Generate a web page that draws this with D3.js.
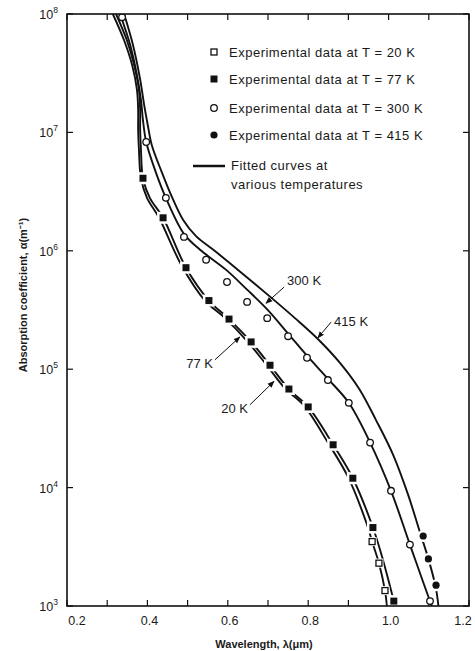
<!DOCTYPE html>
<html>
    <head>
        <title>Absorption coefficient vs wavelength</title>
        <meta charset="utf-8" />
        <script src="https://d3js.org/d3.v7.min.js"></script>
        <style>
            body {
                margin: 0;
                background-color: white;
            }
            svg {
                display: block;
                font-family: 'Liberation Sans', Arial, sans-serif;
                fill: #1a1a1a;
            }
        </style>
    </head>
    <body>
        <svg></svg>
        <script>
            // tick values
            const xMajorTicks = [0.2, 0.4, 0.6, 0.8, 1.0, 1.2]
            const xMinorTicks = [0.3, 0.5, 0.7, 0.9, 1.1]
            const yExponents = [3, 4, 5, 6, 7, 8]

            // experimental points [wavelength (um), alpha (1/m)]
            const data20K = [[0.959, 3.5e3], [0.976, 2.3e3], [0.991, 1.35e3]]
            const data77K = [
                [0.389, 4.1e6], [0.439, 1.9e6], [0.496, 7.2e5], [0.553, 3.8e5],
                [0.603, 2.65e5], [0.658, 1.7e5], [0.705, 1.08e5], [0.752, 6.8e4],
                [0.8, 4.8e4], [0.862, 2.3e4], [0.911, 1.2e4], [0.961, 4.6e3],
                [1.013, 1.1e3],
            ]
            const data300K = [
                [0.337, 9.4e7], [0.397, 8.3e6], [0.446, 2.8e6], [0.491, 1.31e6],
                [0.546, 8.4e5], [0.598, 5.45e5], [0.648, 3.7e5], [0.698, 2.7e5],
                [0.75, 1.9e5], [0.797, 1.25e5], [0.849, 8.1e4], [0.901, 5.2e4],
                [0.954, 2.4e4], [1.006, 9.4e3], [1.053, 3.3e3], [1.103, 1.1e3],
            ]
            const data415K = [[1.086, 3.9e3], [1.099, 2.5e3], [1.118, 1.5e3]]

            // fitted curves
            const fit20K = [
                [0.314, 1e8], [0.342, 6.0e7], [0.362, 3.7e7], [0.374, 2.3e7],
                [0.377, 1.55e7], [0.377, 1.05e7], [0.379, 7.1e6], [0.384, 4.1e6],
                [0.399, 2.8e6], [0.429, 1.9e6], [0.486, 7.4e5], [0.543, 3.8e5],
                [0.593, 2.7e5], [0.648, 1.73e5], [0.695, 1.1e5], [0.742, 6.9e4],
                [0.79, 4.9e4], [0.849, 2.4e4], [0.899, 1.23e4], [0.946, 4.9e3],
                [0.959, 3.5e3], [0.976, 2.3e3], [0.991, 1.35e3], [0.996, 1e3],
            ]
            const fit77K = [
                [0.322, 1e8], [0.349, 6.0e7], [0.367, 3.7e7], [0.379, 2.3e7],
                [0.382, 1.55e7], [0.382, 1.05e7], [0.384, 7.1e6], [0.389, 4.1e6],
                [0.406, 2.8e6], [0.439, 1.9e6], [0.496, 7.2e5], [0.553, 3.8e5],
                [0.603, 2.65e5], [0.658, 1.7e5], [0.705, 1.08e5], [0.752, 6.8e4],
                [0.8, 4.8e4], [0.862, 2.3e4], [0.911, 1.2e4], [0.961, 4.6e3],
                [0.986, 2.45e3], [1.013, 1.1e3], [1.016, 1e3],
            ]
            const fit300K = [
                [0.332, 1e8], [0.357, 5.5e7], [0.374, 3.05e7], [0.384, 1.88e7],
                [0.389, 1.27e7], [0.397, 8.3e6], [0.421, 4.6e6], [0.446, 2.8e6],
                [0.491, 1.39e6], [0.531, 1.02e6], [0.596, 6.9e5], [0.648, 4.7e5],
                [0.698, 3.2e5], [0.75, 2.0e5], [0.797, 1.3e5], [0.849, 8.3e4],
                [0.901, 5.2e4], [0.954, 2.4e4], [1.006, 9.4e3], [1.053, 3.3e3],
                [1.103, 1.1e3], [1.108, 1e3],
            ]
            const fit415K = [
                [0.342, 1e8], [0.364, 5.5e7], [0.382, 2.8e7], [0.392, 1.7e7],
                [0.401, 1.15e7], [0.411, 7.8e6], [0.436, 4.6e6], [0.461, 2.85e6],
                [0.489, 1.82e6], [0.521, 1.33e6], [0.568, 9.95e5], [0.63, 6.7e5],
                [0.705, 4.1e5], [0.767, 2.7e5], [0.824, 1.8e5], [0.879, 1.13e5],
                [0.927, 6.8e4], [0.969, 3.7e4], [1.011, 1.9e4], [1.048, 8.8e3],
                [1.077, 4.3e3], [1.099, 2.5e3], [1.117, 1.45e3], [1.124, 1e3],
            ]

            const legendLabels = [
                'Experimental data at T = 20 K',
                'Experimental data at T = 77 K',
                'Experimental data at T = 300 K',
                'Experimental data at T = 415 K',
            ]
            const curveNames = ['300 K', '415 K', '77 K', '20 K']

            const width = 475
            const height = 651
            const plotLeft = 67
            const plotRight = 469
            const plotTop = 14
            const plotBottom = 606

            const svg = d3
                .select('svg')
                .attr('width', width)
                .attr('height', height)
                .attr('viewBox', [0, 0, width, height])

            const xScale = d3.scaleLinear().domain([0.2, 1.2]).range([plotLeft, plotRight])
            const yScale = d3.scaleLog().domain([1e3, 1e8]).range([plotBottom, plotTop])

            const defs = svg.append('defs')
            defs.append('clipPath')
                .attr('id', 'plot')
                .append('rect')
                .attr('x', plotLeft)
                .attr('y', plotTop)
                .attr('width', plotRight - plotLeft)
                .attr('height', plotBottom - plotTop)

            defs.append('marker')
                .attr('id', 'arrow')
                .attr('viewBox', '0 0 10 10')
                .attr('refX', 9)
                .attr('refY', 5)
                .attr('markerWidth', 7)
                .attr('markerHeight', 7)
                .attr('markerUnits', 'userSpaceOnUse')
                .attr('orient', 'auto')
                .append('path')
                .attr('d', 'M0,1 L10,5 L0,9 Z')
                .style('fill', '#111')

            // ticks, all pointing inward
            const tickLen = 6
            const allX = xMajorTicks.concat(xMinorTicks)
            const tickG = svg.append('g').style('stroke', '#111').style('stroke-width', 1.2)
            allX.forEach((t) => {
                tickG.append('line')
                    .attr('x1', xScale(t)).attr('x2', xScale(t))
                    .attr('y1', plotBottom).attr('y2', plotBottom - tickLen)
                tickG.append('line')
                    .attr('x1', xScale(t)).attr('x2', xScale(t))
                    .attr('y1', plotTop).attr('y2', plotTop + tickLen)
            })
            yExponents.forEach((e) => {
                const yy = yScale(Math.pow(10, e))
                tickG.append('line')
                    .attr('x1', plotLeft).attr('x2', plotLeft + tickLen)
                    .attr('y1', yy).attr('y2', yy)
                tickG.append('line')
                    .attr('x1', plotRight).attr('x2', plotRight - tickLen)
                    .attr('y1', yy).attr('y2', yy)
            })

            // tick labels (first and last nudged so they stay inside the page)
            const lastTick = xMajorTicks.length - 1
            svg.selectAll('.xlab')
                .data(xMajorTicks)
                .enter()
                .append('text')
                .attr('class', 'xlab')
                .attr('x', (d, i) => xScale(d) + (i === 0 ? 10 : i === lastTick ? -6 : 2))
                .attr('y', 625)
                .attr('text-anchor', 'middle')
                .style('font-size', '12.5px')
                .text((d) => d.toFixed(1))

            const yLab = svg.selectAll('.ylab')
                .data(yExponents)
                .enter()
                .append('text')
                .attr('class', 'ylab')
                .attr('x', 58)
                .attr('y', (d) => yScale(Math.pow(10, d)) + 5)
                .attr('text-anchor', 'end')
                .style('font-size', '12.5px')
            yLab.append('tspan').text('10')
            yLab.append('tspan')
                .attr('dy', -6)
                .style('font-size', '8.5px')
                .text((d) => d)

            // axis titles
            svg.append('text')
                .attr('x', 264)
                .attr('y', 648)
                .attr('text-anchor', 'middle')
                .style('font-size', '11px')
                .style('font-weight', 'bold')
                .text('Wavelength, λ(μm)')

            svg.append('text')
                .attr('transform', 'translate(27,295) rotate(-90)')
                .attr('text-anchor', 'middle')
                .style('font-size', '11px')
                .style('font-weight', 'bold')
                .text('Absorption coefficient, α(m⁻¹)')

            // fitted curves
            const line = d3
                .line()
                .x((d) => xScale(d[0]))
                .y((d) => yScale(d[1]))
                .curve(d3.curveCatmullRom.alpha(0.5))

            const plot = svg.append('g').attr('clip-path', 'url(#plot)')
            ;[fit20K, fit77K, fit300K, fit415K].forEach((fit) => {
                plot.append('path')
                    .attr('d', line(fit))
                    .style('fill', 'none')
                    .style('stroke', '#111')
                    .style('stroke-width', 1.9)
            })

            // white gaps around the markers
            function halo(data, shape, size) {
                data.forEach((d) => {
                    if (shape === 'square') {
                        plot.append('rect')
                            .attr('x', xScale(d[0]) - size / 2)
                            .attr('y', yScale(d[1]) - size / 2)
                            .attr('width', size)
                            .attr('height', size)
                            .style('fill', 'white')
                    } else {
                        plot.append('circle')
                            .attr('cx', xScale(d[0]))
                            .attr('cy', yScale(d[1]))
                            .attr('r', size / 2)
                            .style('fill', 'white')
                    }
                })
            }
            halo(data77K, 'square', 12)
            halo(data20K, 'square', 9)
            halo(data415K, 'circle', 12)

            function drawMarker(g, cx, cy, shape, filled) {
                if (shape === 'square') {
                    const s = filled ? 7 : 6
                    g.append('rect')
                        .attr('x', cx - s / 2)
                        .attr('y', cy - s / 2)
                        .attr('width', s)
                        .attr('height', s)
                        .style('fill', filled ? '#111' : 'white')
                        .style('stroke', '#111')
                        .style('stroke-width', filled ? 0 : 1.3)
                } else {
                    g.append('circle')
                        .attr('cx', cx)
                        .attr('cy', cy)
                        .attr('r', filled ? 3.6 : 3.3)
                        .style('fill', filled ? '#111' : 'white')
                        .style('stroke', '#111')
                        .style('stroke-width', filled ? 0 : 1.3)
                }
            }

            const series = [
                { data: data20K, shape: 'square', filled: false },
                { data: data77K, shape: 'square', filled: true },
                { data: data300K, shape: 'circle', filled: false },
                { data: data415K, shape: 'circle', filled: true },
            ]
            series.forEach((s) => {
                s.data.forEach((d) => {
                    drawMarker(plot, xScale(d[0]), yScale(d[1]), s.shape, s.filled)
                })
            })

            // curve labels with arrows: [tail, tip] in data units
            const arrows = [
                [[0.74, 4.94e5], [0.695, 3.6e5]],
                [[0.857, 2.5e5], [0.824, 1.84e5]],
                [[0.568, 1.2e5], [0.63, 1.87e5]],
                [[0.655, 5.0e4], [0.715, 7.9e4]],
            ]
            arrows.forEach((a, i) => {
                const x0 = xScale(a[0][0])
                const y0 = yScale(a[0][1])
                svg.append('line')
                    .attr('x1', x0)
                    .attr('y1', y0)
                    .attr('x2', xScale(a[1][0]))
                    .attr('y2', yScale(a[1][1]))
                    .attr('marker-end', 'url(#arrow)')
                    .style('stroke', '#111')
                    .style('stroke-width', 1)
                const upper = i < 2
                svg.append('text')
                    .attr('x', upper ? x0 + 3 : x0 - 2)
                    .attr('y', upper ? (i === 0 ? y0 - 2 : y0 + 4) : y0 + 8)
                    .attr('text-anchor', upper ? 'start' : 'end')
                    .style('font-size', '13px')
                    .text(curveNames[i])
            })

            // legend
            const legendRows = [52, 79, 108, 135]
            series.forEach((s, i) => {
                drawMarker(svg, 214, legendRows[i], s.shape, s.filled)
                svg.append('text')
                    .attr('x', 229)
                    .attr('y', legendRows[i] + 4.5)
                    .style('font-size', '13px')
                    .style('letter-spacing', '0.5px')
                    .text(legendLabels[i])
            })
            svg.append('line')
                .attr('x1', 193).attr('x2', 225)
                .attr('y1', 166).attr('y2', 166)
                .style('stroke', '#111')
                .style('stroke-width', 2.5)
            svg.append('text')
                .attr('x', 231)
                .attr('y', 170)
                .style('font-size', '13px')
                .style('letter-spacing', '0.5px')
                .text('Fitted curves at')
            svg.append('text')
                .attr('x', 231)
                .attr('y', 189)
                .style('font-size', '13px')
                .style('letter-spacing', '0.5px')
                .text('various temperatures')

            // frame
            svg.append('rect')
                .attr('x', plotLeft)
                .attr('y', plotTop)
                .attr('width', plotRight - plotLeft)
                .attr('height', plotBottom - plotTop)
                .style('fill', 'none')
                .style('stroke', '#111')
                .style('stroke-width', 1.6)
        </script>
    </body>
</html>
